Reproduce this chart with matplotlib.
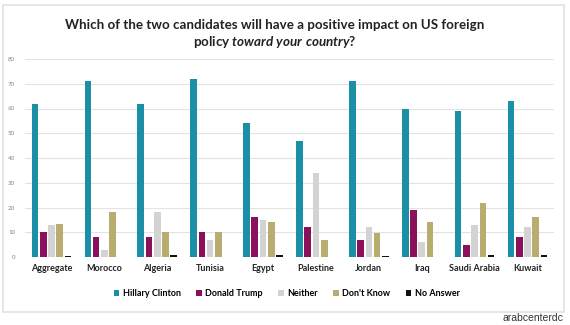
import matplotlib
matplotlib.use("Agg")
import matplotlib.pyplot as plt
import numpy as np
from matplotlib.patches import Rectangle

countries = ["Aggregate", "Morocco", "Algeria", "Tunisia", "Egypt",
             "Palestine", "Jordan", "Iraq", "Saudi Arabia", "Kuwait"]
series_names = ["Hillary Clinton", "Donald Trump", "Neither", "Don't Know", "No Answer"]
clinton = [62, 71, 62, 72, 54, 47, 71, 60, 59, 63]
trump = [10.3, 8, 8, 10, 16, 12, 7, 19, 5, 8]
neither = [13, 3, 18, 7, 15, 34, 12, 6, 13, 12]
dont_know = [13.3, 18, 10, 10, 14, 7, 9.5, 14, 22, 16]
no_answer = [0.3, 0, 1, 0, 1, 0, 0.3, 0, 1, 1]
colors = ["#1a8fa6", "#8c0f5c", "#d3d3d3", "#b8ad6f", "#111111"]

plt.rcParams['font.family'] = ['Lato', 'DejaVu Sans']
plt.rcParams['mathtext.fontset'] = 'custom'
plt.rcParams['mathtext.it'] = 'Lato:italic:bold'
plt.rcParams['mathtext.rm'] = 'Lato:bold'

W, H = 570, 325
fig = plt.figure(figsize=(5.7, 3.25), dpi=100)
# outer chart border
fig.patches.append(Rectangle((3 / W, 1 - 312 / H), 561 / W, 307 / H,
                             transform=fig.transFigure, fill=False,
                             edgecolor="#e2e2e2", linewidth=1.2))

ax = fig.add_axes([25 / W, 1 - 257 / H, 529 / W, 198 / H])

x = np.arange(len(countries))
width = 0.125
step = 0.156
all_series = [clinton, trump, neither, dont_know, no_answer]
for i, (vals, name, c) in enumerate(zip(all_series, series_names, colors)):
    ax.bar(x + (i - 2) * step, vals, width, color=c, label=name, zorder=3)

ax.set_ylim(0, 80)
ax.set_xlim(-0.5, len(countries) - 0.5)
ax.set_yticks(range(0, 81, 10))
ax.tick_params(axis='y', labelsize=4.5, labelcolor="#888888", length=0, pad=7)
ax.set_xticks(x)
ax.set_xticklabels(countries, fontsize=6.5, fontweight='bold', color="#222222")
ax.tick_params(axis='x', length=0, pad=5)
ax.grid(axis='y', color="#e3e3e3", linewidth=0.8, zorder=0)
for s in ax.spines.values():
    s.set_visible(False)

fig.text(275 / W, 1 - 25 / H, "Which of the two candidates will have a positive impact on US foreign",
         ha='center', va='center', fontsize=9.6, fontweight='bold', color="#222222")
fig.text(275 / W, 1 - 42 / H, r"policy $\it{toward\ your\ country}$?",
         ha='center', va='center', fontsize=9.6, fontweight='bold', color="#222222")

ax.legend(loc='center', bbox_to_anchor=(287 / W, 1 - 294 / H),
          bbox_transform=fig.transFigure, ncol=5, frameon=False,
          handlelength=0.6, handleheight=0.6, handletextpad=0.4,
          columnspacing=1.7, prop={'weight': 'bold', 'size': 6.5})

fig.text(563 / W, 1 - 318 / H, "arabcenterdc", ha='right', va='center',
         fontsize=7.5, color="#333333", family='Liberation Sans')

fig.savefig("out.png", dpi=100, facecolor="white")
